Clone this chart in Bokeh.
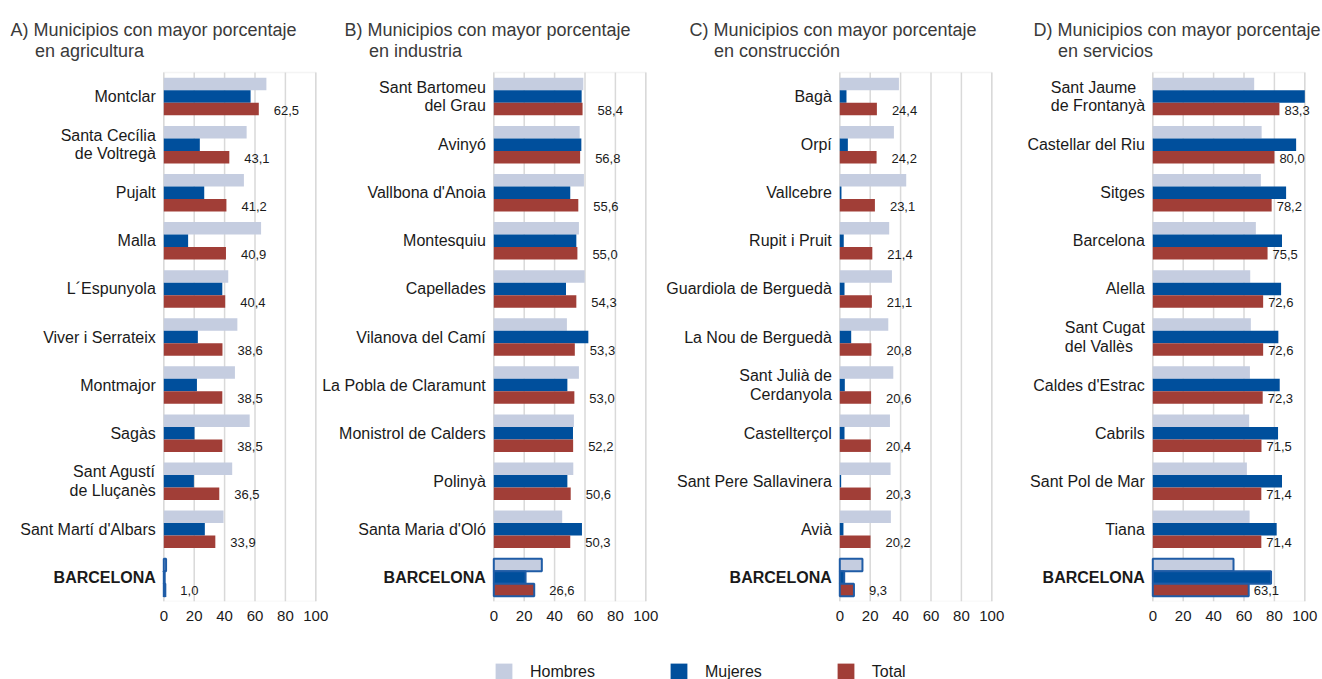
import numpy as np
from bokeh.plotting import figure
from bokeh.layouts import row, column
from bokeh.models import (ColumnDataSource, Range1d, FixedTicker, LabelSet, Label,
                          Legend, LegendItem, BoxAnnotation)
from bokeh.core.properties import value
from bokeh.embed import file_html
from bokeh.resources import INLINE

# ---------------- data ----------------
panel_letters = ["A)", "B)", "C)", "D)"]
title_line1 = "Municipios con mayor porcentaje"
title_line2 = ["en agricultura", "en industria", "en construcción", "en servicios"]
series_names = ["Hombres", "Mujeres", "Total"]
x_ticks = [0, 20, 40, 60, 80, 100]

cats_a = ["Montclar", "Santa Cecília\nde Voltregà", "Pujalt", "Malla", "L´Espunyola",
          "Viver i Serrateix", "Montmajor", "Sagàs", "Sant Agustí\nde Lluçanès",
          "Sant Martí d'Albars", "BARCELONA"]
hombres_a = [67.5, 54.5, 52.7, 64.0, 42.4, 48.4, 46.8, 56.5, 45.0, 39.3, 1.5]
mujeres_a = [57.1, 23.7, 26.6, 16.0, 38.5, 22.4, 21.8, 20.2, 19.8, 27.0, 0.6]
total_a = [62.5, 43.1, 41.2, 40.9, 40.4, 38.6, 38.5, 38.5, 36.5, 33.9, 1.0]

cats_b = ["Sant Bartomeu\ndel Grau", "Avinyó", "Vallbona d'Anoia", "Montesquiu", "Capellades",
          "Vilanova del Camí", "La Pobla de Claramunt", "Monistrol de Calders", "Polinyà",
          "Santa Maria d'Oló", "BARCELONA"]
hombres_b = [58.9, 56.5, 59.3, 56.0, 59.8, 48.1, 56.0, 52.7, 52.3, 45.0, 31.6]
mujeres_b = [57.8, 57.6, 50.3, 54.3, 47.5, 62.2, 48.4, 52.1, 48.4, 58.0, 20.9]
total_b = [58.4, 56.8, 55.6, 55.0, 54.3, 53.3, 53.0, 52.2, 50.6, 50.3, 26.6]

cats_c = ["Bagà", "Orpí", "Vallcebre", "Rupit i Pruit", "Guardiola de Berguedà",
          "La Nou de Berguedà", "Sant Julià de\nCerdanyola", "Castellterçol",
          "Sant Pere Sallavinera", "Avià", "BARCELONA"]
hombres_c = [38.9, 35.6, 43.7, 32.5, 34.3, 31.9, 35.2, 33.0, 33.4, 33.6, 14.9]
mujeres_c = [4.4, 5.3, 1.1, 2.6, 3.1, 7.5, 3.3, 3.1, 0.9, 2.4, 2.9]
total_c = [24.4, 24.2, 23.1, 21.4, 21.1, 20.8, 20.6, 20.4, 20.3, 20.2, 9.3]

cats_d = ["Sant Jaume\nde Frontanyà", "Castellar del Riu", "Sitges", "Barcelona", "Alella",
          "Sant Cugat\ndel Vallès", "Caldes d'Estrac", "Cabrils", "Sant Pol de Mar", "Tiana",
          "BARCELONA"]
hombres_d = [66.7, 71.6, 71.1, 67.8, 64.1, 64.5, 63.9, 63.4, 61.9, 63.7, 53.1]
mujeres_d = [100.0, 94.3, 87.7, 85.0, 84.4, 82.6, 83.5, 82.4, 85.0, 81.5, 77.8]
total_d = [83.3, 80.0, 78.2, 75.5, 72.6, 72.6, 72.3, 71.5, 71.4, 71.4, 63.1]

# ---------------- style / layout ----------------
FONT = "Liberation Sans"
C_H = "#c5cde0"
C_M = "#004f9c"
C_T = "#a13e37"
C_EDGE = "#1f5ca6"
GRID = "#d9d9d9"
TXT = "#1a1a1a"
BAR_H = 0.26
PX_PER_UNIT = 1.52      # screen px per percentage point
TOP_PX = 72             # space above the bar area (titles)
BARS_PX = 529           # height of the bar area
BOTTOM_PX = 40          # room for the x tick labels
LEGEND_PX = 38


def fmt(v):
    return f"{v:.1f}".replace(".", ",")


def make_panel(k, cats, hom, muj, tot, fig_left, fig_right, zero_px, val_gap,
               title_dx, left_blocks=None, margin=None):
    n = len(cats)
    idx = np.arange(n)
    cat_px = BARS_PX / n
    w = fig_right - fig_left
    x0 = (fig_left - zero_px) / PX_PER_UNIT
    x1 = (fig_right - zero_px) / PX_PER_UNIT
    y_top = -0.5 - TOP_PX / cat_px
    p = figure(frame_width=w, frame_height=TOP_PX + BARS_PX, min_border_left=0,
               min_border_right=0, min_border_top=0, min_border_bottom=BOTTOM_PX,
               x_range=Range1d(x0, x1), y_range=Range1d(n - 0.5, y_top),
               y_axis_location=None, output_backend="svg", toolbar_location=None)
    if margin is not None:
        p.margin = margin
    p.border_fill_alpha = 0
    p.background_fill_alpha = 0
    p.outline_line_color = None
    p.xgrid.visible = False
    p.ygrid.visible = False
    ax = p.xaxis[0]
    ax.ticker = FixedTicker(ticks=x_ticks)
    ax.axis_line_color = None
    ax.major_tick_line_color = None
    ax.minor_tick_line_color = None
    ax.major_tick_out = 0
    ax.major_label_standoff = 9
    ax.major_label_text_font = FONT
    ax.major_label_text_font_size = "15px"
    ax.major_label_text_color = TXT

    # grid lines and frame of the bar area
    p.segment(x0=x_ticks, x1=x_ticks, y0=[-0.5] * len(x_ticks),
              y1=[n - 0.5] * len(x_ticks), line_color=GRID, line_width=1.5,
              level="underlay")
    p.add_layout(BoxAnnotation(left=0, right=100, top=-0.5, bottom=n - 0.5,
                               fill_alpha=0, line_color=GRID, line_width=1.5,
                               level="underlay"))

    edge = [1.0 if c == "BARCELONA" else 0.0 for c in cats]
    src = ColumnDataSource(dict(yh=idx - BAR_H, ym=idx, yt=idx + BAR_H,
                                h=hom, m=muj, t=tot, ea=edge,
                                lab=[fmt(v) for v in tot]))
    p.hbar(y="yh", left=0, right="h", height=BAR_H, fill_color=C_H,
           line_color=C_EDGE, line_alpha="ea", line_width=2, source=src)
    p.hbar(y="ym", left=0, right="m", height=BAR_H, fill_color=C_M,
           line_color=C_EDGE, line_alpha="ea", line_width=2, source=src)
    p.hbar(y="yt", left=0, right="t", height=BAR_H, fill_color=C_T,
           line_color=C_EDGE, line_alpha="ea", line_width=2, source=src)

    p.add_layout(LabelSet(x="t", y="yt", text="lab", source=src, x_offset=val_gap,
                          y_offset=-1, text_align="left", text_baseline="middle",
                          text_font=value(FONT), text_font_size="13px",
                          text_color=TXT))

    left_blocks = left_blocks or {}
    for i, c in enumerate(cats):
        if c in left_blocks:
            lab = Label(x=0, y=i, x_offset=-8 - left_blocks[c], text=c,
                        text_align="left", text_baseline="middle")
        else:
            lab = Label(x=0, y=i, x_offset=-8, text=c, text_align="right",
                        text_baseline="middle")
        lab.text_font = FONT
        lab.text_font_size = "16px"
        lab.text_color = TXT
        lab.text_line_height = 1.1
        if c == "BARCELONA":
            lab.text_font_style = "bold"
        p.add_layout(lab)

    p.add_layout(Label(x=0, y=-0.5, x_offset=title_dx, y_offset=42.7,
                       text=f"{panel_letters[k]} {title_line1}", text_align="left",
                       text_baseline="alphabetic", text_font=FONT,
                       text_font_size="18px", text_color="#3a3a3a"))
    p.add_layout(Label(x=0, y=-0.5, x_offset=title_dx + 24.5, y_offset=21.3,
                       text=title_line2[k], text_align="left",
                       text_baseline="alphabetic", text_font=FONT,
                       text_font_size="18px", text_color="#3a3a3a"))
    return p


pa = make_panel(0, cats_a, hombres_a, mujeres_a, total_a, 0, 330, 163.3, 15, -153.3)
pb = make_panel(1, cats_b, hombres_b, mujeres_b, total_b, 320, 665, 493.3, 15, -149.3,
                margin=(0, 0, 0, -10))
pc = make_panel(2, cats_c, hombres_c, mujeres_c, total_c, 665, 1010, 839.3, 15, -150.3)
pd = make_panel(3, cats_d, hombres_d, mujeres_d, total_d, 1010, 1321, 1152.3, 5, -119.3,
                left_blocks={"Sant Jaume\nde Frontanyà": 94, "Sant Cugat\ndel Vallès": 80})

# legend strip
lf = figure(width=1321, height=LEGEND_PX, x_range=Range1d(0, 1), y_range=Range1d(0, 1),
            x_axis_location=None, y_axis_location=None, output_backend="svg",
            toolbar_location=None, min_border=0)
lf.outline_line_color = None
lf.border_fill_alpha = 0
lf.background_fill_alpha = 0
lf.xgrid.visible = False
lf.ygrid.visible = False
rends = []
for col in [C_H, C_M, C_T]:
    # zero-length stand-ins: only their colours are shown, as legend swatches
    rends.append(lf.hbar(y=[0.5], left=[0], right=[0], height=0.5, fill_color=col,
                         line_color=None))
leg = Legend(items=[LegendItem(label=s, renderers=[r]) for s, r in zip(series_names, rends)],
             orientation="horizontal", location=(493, -3), glyph_width=21,
             glyph_height=21, label_standoff=16, spacing=73, padding=0, margin=0,
             border_line_color=None, background_fill_alpha=0,
             label_text_font=FONT, label_text_font_size="16px", label_text_color=TXT)
lf.add_layout(leg)

layout = column(row(pa, pb, pc, pd), lf)
open("out.html", "w").write(file_html(layout, INLINE))
